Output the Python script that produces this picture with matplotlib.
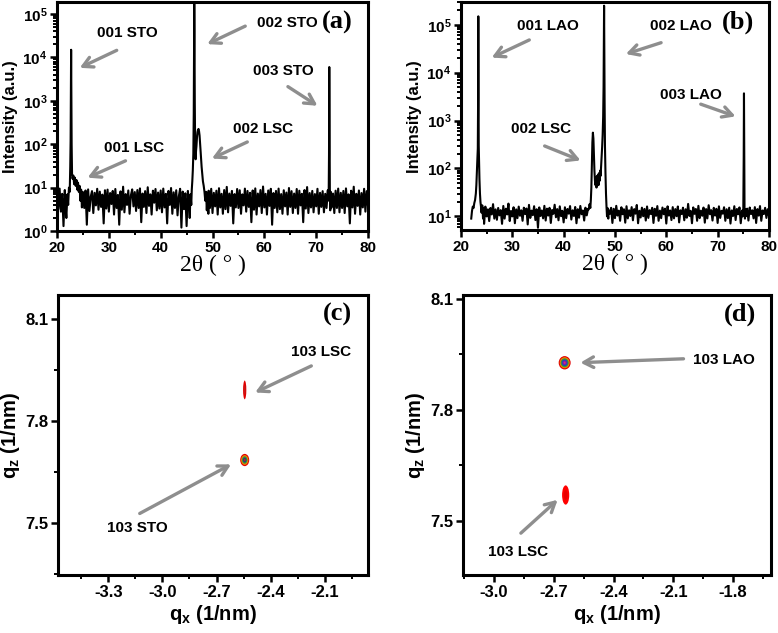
import numpy as np
import matplotlib
matplotlib.use("Agg")
from matplotlib import pyplot as plt
from matplotlib.patches import Ellipse
from matplotlib.ticker import MultipleLocator, LogLocator, NullFormatter

# ---------------- data ----------------
# (a) XRD on STO: background counts every 0.25 deg from 20 to 80
bg_a = [
    8.5, 3.2, 9.5, 2.8, 7.2, 1.3, 8.8, 3.5, 6.8, 2.4, 9.2, 4.1, 8, 2.9, 6.5, 3.8, 9.8, 3.3, 7.4, 2.6,
    7.8, 3.4, 8.6, 1.4, 9.1, 2.9, 6.2, 8.3, 2.6, 7.6, 3.9, 9.4, 3.1, 8.1, 3.6, 6.9, 1.5, 8.7, 3.3, 9,
    2.8, 7.5, 4.2, 8.4, 2.4, 9.3, 3.4, 6.8, 1.4, 8.2, 3.1, 10.5, 2.7, 7.1, 4, 8.6, 2.5, 6.6, 9.1, 3.7,
    7.9, 2.9, 8.8, 3.4, 9.6, 1.6, 7.3, 3.6, 8.3, 2.6, 10.2, 3.8, 7, 2.4, 8.5, 4.5, 9.3, 3, 7.7, 3.3,
    8.6, 2.7, 9.5, 3.5, 7.2, 1.5, 8.4, 4, 9.8, 2.5, 7.8, 3.4, 8.7, 2.3, 6.3, 9.4, 1.2, 8.1, 3.2, 7.4,
    1.3, 8.4, 3.6, 9.3, 2.8, 7.5, 3.5, 8.6, 2.6, 7.1, 3.9, 9.2, 2.7, 8.3, 3.6, 7.4, 1.7, 8.5, 3.4, 9.4,
    2.6, 7.6, 3.7, 8.5, 2.4, 9.7, 3.5, 7.2, 2.5, 8.8, 3.2, 10.4, 2.7, 7.3, 3.8, 8.4, 1.5, 7.1, 3.5, 9.3,
    3.4, 8.7, 2.5, 7, 3.9, 9.5, 2.8, 8.4, 3.6, 7.6, 1.6, 8.6, 3.1, 9.6, 2.4, 7.3, 3.7, 8.8, 2.6, 10.6,
    3.5, 7.2, 2.4, 8.6, 3.8, 9.4, 1.4, 7.5, 3.4, 8.4, 2.7, 9.5, 3.2, 7.1, 2.5, 8.7, 3.7, 7.7, 2.4, 9.8,
    3.6, 8.3, 2.6, 7.3, 3.4, 9.3, 2.5, 8.5, 3.9, 7.2, 1.6, 8.8, 3.3, 10.3, 2.6, 7.5, 3.5, 8.4, 2.7, 7.1,
    3.7, 9.4, 2.5, 7.6, 3.6, 8.3, 2.7, 7.2, 3.4, 8.7, 2.4, 9.3, 3.5, 7.3, 2.6, 8.5, 3.4, 9.5, 2.7, 7.6,
    3.4, 8.4, 2.6, 9.6, 3.7, 7, 1.5, 8.5, 3.5, 10.5, 2.5, 7.2, 3.8, 8.6, 2.4, 7.5, 3.5, 9.4, 2.8, 8.3,
    3.8,
]
# peak regions (2theta, counts)
peak_a_tt = [
    [21.6, 21.8, 22.0, 22.15, 22.3, 22.45, 22.55, 22.62, 22.68, 22.72, 22.76, 22.82, 22.9, 23.0,
     23.15, 23.3, 23.45, 23.6, 23.75, 23.9, 24.05, 24.2, 24.35, 24.5, 24.65, 24.8, 24.95],
    [45.6, 45.75, 45.9, 46.0, 46.1, 46.2, 46.3, 46.38, 46.44, 46.48, 46.52, 46.58, 46.66, 46.74,
     46.82, 46.9, 47.0, 47.1, 47.2, 47.3, 47.4, 47.5, 47.6, 47.7, 47.8, 47.9, 48.0, 48.15,
     48.3, 48.45, 48.6, 48.75, 48.9, 49.05, 49.2],
    [72.3, 72.42, 72.48, 72.53, 72.58, 72.64, 72.72, 72.82],
]
peak_a_int = [
    [4, 2, 7, 4, 10, 8, 30, 120, 3000, 15000, 2500, 100, 20, 16,
     19, 12, 17, 11, 15, 9, 13, 8, 11, 5, 9, 3.5, 8],
    [2, 7, 4, 9, 14, 25, 60, 500, 30000, 170000, 40000, 900, 60, 45,
     70, 90, 140, 190, 215, 225, 200, 160, 110, 70, 45, 30, 22, 14,
     11, 8, 5, 8, 3, 7.5, 2.5],
    [5, 8, 60, 6000, 400, 9, 3, 8],
]

# (b) XRD on LAO: background counts every 0.25 deg from 22 to 80
bg_b = [
    10, 16, 9, 14, 8, 17, 10, 15, 9, 13, 7, 16, 10, 14, 8, 15, 11, 18, 9, 14,
    8.5, 15, 10.5, 13.5, 7, 16.5, 9, 14.5, 11, 18.5, 8, 13, 10, 15.5, 7.2, 14, 9.2, 16, 10.3, 13.4,
    8.1, 15.2, 11.2, 14.6, 6.8, 17.4, 9.3, 13.2, 10.6, 16.3, 8.4, 14.1, 5.8, 15.4, 10.2, 13.3, 9.1, 16.6, 8.2, 14.5,
    10.4, 15.1, 7.3, 13.6, 11.3, 17.5, 9.6, 14.2, 8.3, 16.2, 10.1, 13.1, 7.5, 15.5, 9.2, 14.3, 11.4, 16.4, 8.6, 13.4,
    10.2, 15.7, 7.2, 14.1, 9.4, 16.5, 11.1, 13.3, 8.2, 15.2, 10.5, 14.4, 7.4, 16.1, 9.1, 13.5, 11.2, 15.3, 8.4, 14.2,
    9.3, 15.4, 7.6, 14.3, 10.1, 16.2, 8.2, 13.6, 11.3, 15.1, 7.3, 14.4, 9.2, 16.6, 10.4, 13.2, 8.1, 15.5, 11.1, 14.1,
    7.4, 16.3, 9.1, 13.4, 10.2, 15.6, 8.3, 14.2, 11.4, 17.3, 7.2, 13.1, 9.5, 15.2, 10.1, 14.3, 8.2, 16.1, 9.3, 13.5,
    11.2, 15.1, 7.3, 14.4, 10.3, 16.4, 8.1, 13.2, 9.2, 15.3, 11.1, 14.5, 7.1, 16.2, 10.4, 13.3, 8.4, 15.6, 9.1, 14.2,
    10.1, 16.1, 7.5, 13.4, 11.2, 15.2, 8.3, 14.1, 9.4, 18.2, 10.2, 13.1, 7.2, 15.4, 11.3, 14.3, 8.1, 16.6, 9.2, 13.2,
    10.3, 15.3, 7.4, 14.2, 9.1, 17.1, 11.1, 13.5, 8.2, 15.1, 10.4, 14.4, 7.3, 16.2, 9.3, 13.1, 11.4, 15.5, 8.1, 14.1,
    9.2, 15.2, 7.1, 13.3, 10.2, 16.3, 8.4, 14.3, 11.1, 15.4, 7.2, 13.2, 9.4, 16.1, 10.1, 14.5, 8.2, 15.3, 11.2, 13.4,
    9.1, 15.6, 7.3, 14.2, 10.4, 16.4, 8.1, 13.3, 11.2, 15.1, 9.3, 14.1, 10.2,
]
peak_b_tt = [
    [22.0, 22.15, 22.3, 22.45, 22.6, 22.75, 22.9, 23.0, 23.1, 23.2, 23.28, 23.34, 23.38, 23.42,
     23.46, 23.52, 23.6, 23.7, 23.8, 23.9, 24.0, 24.15, 24.3, 24.45],
    [44.9, 45.05, 45.2, 45.3, 45.4, 45.5, 45.6, 45.7, 45.8, 45.9, 46.0, 46.1, 46.2, 46.3, 46.4,
     46.5, 46.6, 46.7, 46.8, 46.9, 47.0, 47.1, 47.2, 47.3, 47.4, 47.5, 47.6, 47.7, 47.78, 47.84,
     47.88, 47.92, 47.98, 48.05, 48.15, 48.25, 48.35, 48.45, 48.55, 48.7],
    [74.85, 75.0, 75.08, 75.13, 75.18, 75.24, 75.32, 75.45],
]
peak_b_int = [
    [9, 13, 16, 15, 19, 22, 30, 45, 80, 160, 260, 3000, 150000, 6000,
     300, 140, 60, 30, 20, 16, 12, 17, 9, 15],
    [14, 18, 15, 22, 40, 120, 350, 560, 420, 200, 90, 55, 45, 65, 40,
     70, 50, 75, 45, 80, 55, 90, 70, 110, 160, 280, 500, 1200, 5000, 60000,
     250000, 30000, 2500, 300, 80, 30, 16, 10, 15, 9],
    [10, 14, 180, 3700, 150, 12, 9, 14],
]

# annotations: (label, text x, text y, arrow head x, arrow head y, arrow tail x, arrow tail y)
notes_a = [
    ("001 STO", 33.5, 3.6e4, 23.9, 5.4e3, 32.0, 1.55e4),
    ("002 STO", 64.5, 6.2e4, 48.5, 1.9e4, 56.8, 5.6e4),
    ("003 STO", 63.7, 4.8e3, 70.7, 7.1e2, 64.1, 2.3e3),
    ("001 LSC", 34.9, 83, 25.4, 16, 33.7, 44),
    ("002 LSC", 59.7, 230, 49.4, 44, 57.2, 120),
]
notes_b = [
    ("001 LAO", 36.9, 9.5e4, 25.5, 1.95e4, 33.8, 5.1e4),
    ("002 LAO", 62.9, 9.5e4, 51.6, 2.35e4, 59.5, 4.4e4),
    ("003 LAO", 64.8, 3.5e3, 74.0, 1.17e3, 66.2, 2.3e3),
    ("002 LSC", 35.7, 660, 43.8, 140, 35.8, 310),
]
notes_c = [
    ("103 LSC", -2.12, 8.003, -2.50, 7.880, -2.161, 7.965),
    ("103 STO", -3.14, 7.485, -2.606, 7.676, -3.139, 7.524),
]
notes_d = [
    ("103 LAO", -1.845, 7.935, -2.58, 7.927, -2.035, 7.938),
    ("103 LSC", -2.88, 7.416, -2.67, 7.562, -2.875, 7.462),
]

# RSM spots: centre qx, centre qz, width, height, contour colours outer -> inner
spots_c = [
    (-2.544, 7.891, 0.018, 0.055, ["#e00000", "#c81818"]),
    (-2.544, 7.685, 0.050, 0.036, ["#e00000", "#f08000", "#3a9a30", "#203a80", "#c02020"]),
]
spots_d = [
    (-2.645, 7.927, 0.060, 0.036, ["#e00000", "#f08000", "#3a9a30", "#2040c0", "#8020a0", "#e02080"]),
    (-2.640, 7.570, 0.036, 0.052, ["#ff0000", "#e80000"]),
]

# ---------------- styling ----------------
plt.rcParams["font.family"] = ["Liberation Sans", "DejaVu Sans"]
plt.rcParams["font.weight"] = "bold"
plt.rcParams["axes.unicode_minus"] = False
plt.rcParams["mathtext.fontset"] = "custom"
plt.rcParams["mathtext.rm"] = "Liberation Sans:bold"
plt.rcParams["mathtext.it"] = "Liberation Sans:bold"
plt.rcParams["mathtext.bf"] = "Liberation Sans:bold"
plt.rcParams["mathtext.default"] = "rm"

ARROW = "#8e8e8e"
NOTE_FS = 11


def merge_spectrum(x0, bg, peak_tt, peak_int):
    tt = x0 + 0.25 * np.arange(len(bg))
    counts = np.array(bg, dtype=float)
    keep = np.ones(len(tt), dtype=bool)
    for seg in peak_tt:
        keep &= ~((tt >= seg[0]) & (tt <= seg[-1]))
    all_tt = np.concatenate([tt[keep]] + [np.array(s) for s in peak_tt])
    all_int = np.concatenate([counts[keep]] + [np.array(s, dtype=float) for s in peak_int])
    order = np.argsort(all_tt)
    return all_tt[order], all_int[order]


def style_axes(ax, fs):
    for s in ax.spines.values():
        s.set_linewidth(2.2)
    ax.tick_params(which="major", direction="out", length=5, width=1.8, labelsize=fs, pad=2)
    ax.tick_params(which="minor", direction="out", length=3, width=1.4)
    for lab in ax.get_xticklabels() + ax.get_yticklabels():
        lab.set_fontweight("bold")


def add_notes(ax, notes):
    for label, tx, ty, hx, hy, sx, sy in notes:
        ax.text(tx, ty, label, ha="center", va="center", fontsize=NOTE_FS, fontweight="bold")
        ax.annotate("", xy=(hx, hy), xytext=(sx, sy),
                    arrowprops=dict(arrowstyle="->,head_length=0.7,head_width=0.38",
                                    color=ARROW, lw=2.4))


def xrd_panel(ax, tt, counts, notes, ylim, tag):
    ax.plot(tt, counts, color="black", lw=1.5)
    ax.set_yscale("log")
    ax.set_xlim(20, 80)
    ax.set_ylim(*ylim)
    ax.xaxis.set_major_locator(MultipleLocator(10))
    ax.xaxis.set_minor_locator(MultipleLocator(5))
    ax.yaxis.set_major_locator(LogLocator(base=10, numticks=10))
    ax.yaxis.set_minor_locator(LogLocator(base=10, subs=np.arange(2, 10), numticks=10))
    ax.yaxis.set_minor_formatter(NullFormatter())
    ax.set_ylabel("Intensity (a.u.)", fontsize=12, fontweight="bold", labelpad=3)
    ax.set_xlabel("2θ ( ° )", fontsize=17, fontweight="normal",
                  family=["Liberation Serif", "DejaVu Serif"], labelpad=0)
    add_notes(ax, notes)
    ax.text(0.9, 0.91, tag, transform=ax.transAxes, ha="center", va="center",
            fontsize=19, fontweight="bold", family=["Liberation Serif", "DejaVu Serif"])
    style_axes(ax, 11)


def rsm_panel(ax, spots, notes, xlim, ylim, xticks, tag):
    for cx, cz, w, h, cols in spots:
        n = len(cols)
        for i, col in enumerate(cols):
            f = 1.0 - i / n
            ax.add_patch(Ellipse((cx, cz), w * f, h * f, facecolor=col, edgecolor="none"))
    ax.set_xlim(*xlim)
    ax.set_ylim(*ylim)
    ax.set_xticks(xticks)
    ax.xaxis.set_minor_locator(MultipleLocator(0.15))
    ax.set_yticks([7.5, 7.8, 8.1])
    ax.yaxis.set_minor_locator(MultipleLocator(0.15))
    ax.set_xlabel("q$_x$ (1/nm)", fontsize=14.5, fontweight="bold", labelpad=2)
    ax.set_ylabel("q$_z$ (1/nm)", fontsize=14.5, fontweight="bold", labelpad=2)
    add_notes(ax, notes)
    ax.text(0.9, 0.93, tag, transform=ax.transAxes, ha="center", va="center",
            fontsize=19, fontweight="bold", family=["Liberation Serif", "DejaVu Serif"])
    style_axes(ax, 12)


fig = plt.figure(figsize=(7.78, 6.33), dpi=100)
ax_a = fig.add_axes([0.0733, 0.635, 0.3997, 0.362])
ax_b = fig.add_axes([0.5925, 0.636, 0.3959, 0.361])
ax_c = fig.add_axes([0.0746, 0.0916, 0.3984, 0.4424])
ax_d = fig.add_axes([0.5951, 0.0916, 0.3959, 0.4424])

tt_a, int_a = merge_spectrum(20.0, bg_a, peak_a_tt, peak_a_int)
tt_b, int_b = merge_spectrum(22.0, bg_b, peak_b_tt, peak_b_int)

xrd_panel(ax_a, tt_a, int_a, notes_a, (1, 1.9e5), "(a)")
xrd_panel(ax_b, tt_b, int_b, notes_b, (5.1, 3.0e5), "(b)")
rsm_panel(ax_c, spots_c, notes_c, (-3.578, -1.861), (7.347, 8.17),
          [-3.3, -3.0, -2.7, -2.4, -2.1], "(c)")
rsm_panel(ax_d, spots_d, notes_d, (-3.155, -1.61), (7.354, 8.11),
          [-3.0, -2.7, -2.4, -2.1, -1.8], "(d)")

fig.savefig("out.png", dpi=100)
